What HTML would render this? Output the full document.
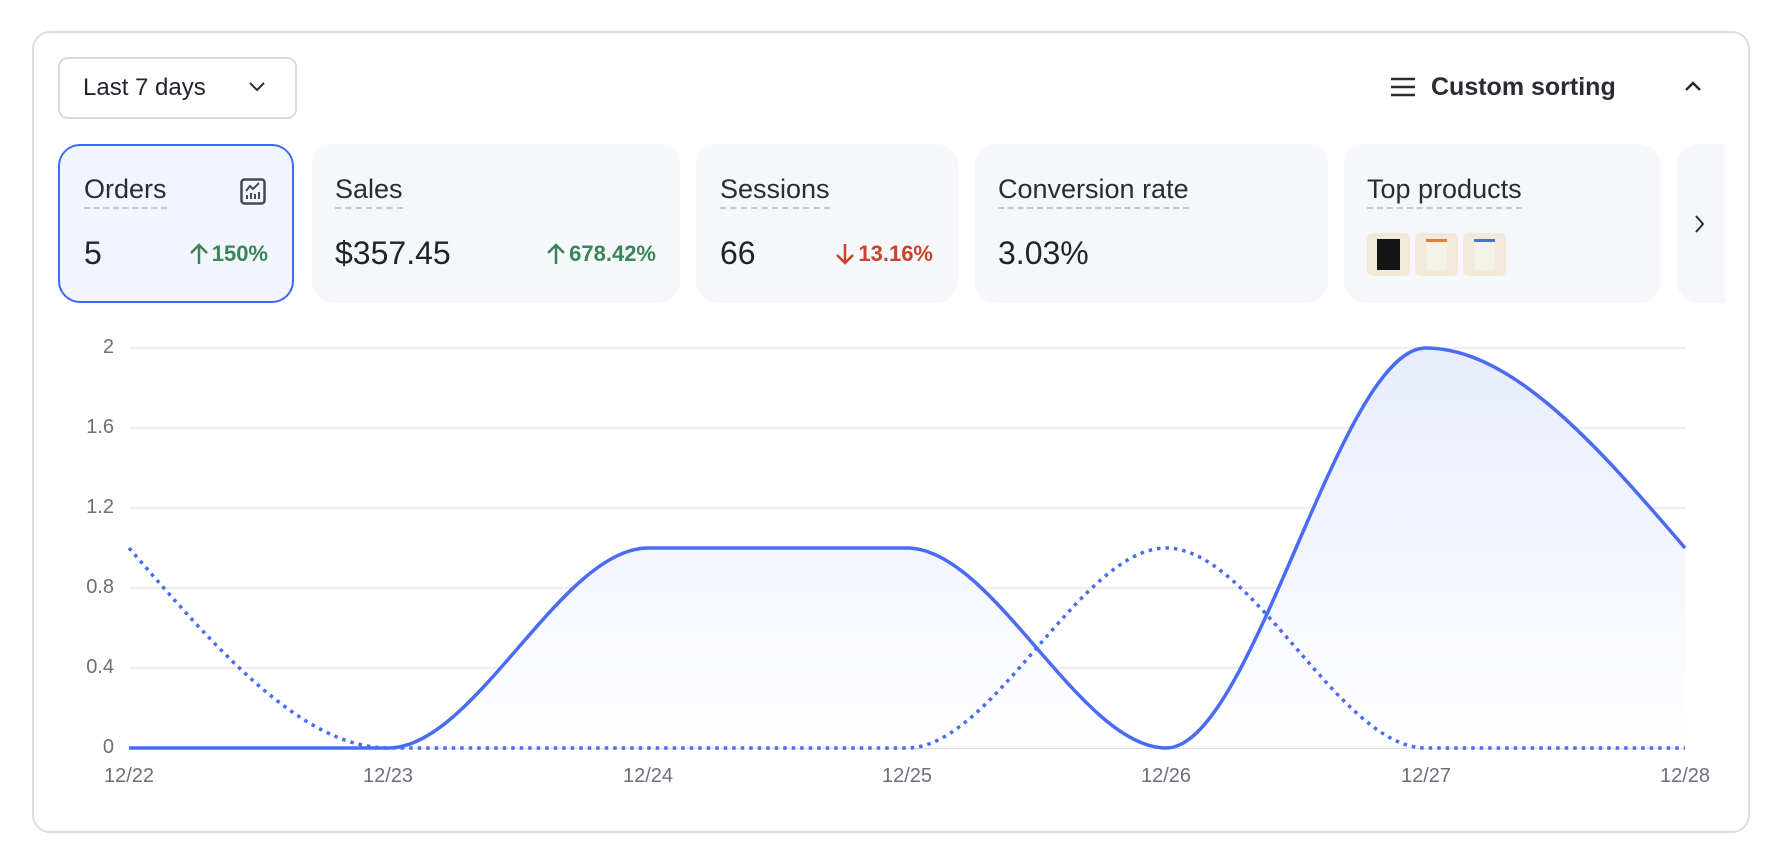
<!DOCTYPE html>
<html><head><meta charset="utf-8"><style>
*{margin:0;padding:0;box-sizing:border-box}
body{width:1784px;height:864px;background:#fff;font-family:"Liberation Sans",sans-serif;color:#22232b;position:relative;overflow:hidden}
.abs{position:absolute}
.card{position:absolute;top:144px;height:159px;background:#f6f7fb;border-radius:22px}
.lbl{position:absolute;top:174px;font-size:27px;line-height:31px;border-bottom:2px dashed #c3c6cf;padding-bottom:2px;color:#2a2b33}
.val{position:absolute;top:235px;font-size:32px;line-height:37px;color:#22232b}
.pct{position:absolute;top:240px;font-size:22px;line-height:28px;font-weight:600;text-align:right;display:flex;justify-content:flex-end;align-items:center;gap:3px}
.g{color:#3a8456}.r{color:#c9432a}
.yl{position:absolute;left:40px;width:74px;text-align:right;font-size:20px;color:#6b6f7b}
.xl{position:absolute;top:765px;width:100px;text-align:center;font-size:20px;color:#6b6f7b}
.th{position:absolute;top:233px;width:43px;height:43px;background:#f3e9da;border-radius:6px}
</style></head><body>
<div class="abs" style="left:32px;top:31px;width:1718px;height:802px;border:2px solid #dcdee6;border-radius:18px"></div>
<div class="abs" style="left:58px;top:57px;width:239px;height:62px;border:2px solid #d9dbe3;border-radius:10px"></div>
<div class="abs" style="left:83px;top:73px;font-size:24px;line-height:30px">Last 7 days</div>
<svg class="abs" style="left:248px;top:80px" width="18" height="12"><path d="M2 3 L9 10 L16 3" fill="none" stroke="#2a2b33" stroke-width="2"/></svg>
<svg class="abs" style="left:1390px;top:76px" width="26" height="22"><path d="M1 3H25M1 11H25M1 19H25" stroke="#2a2b33" stroke-width="2.5"/></svg>
<div class="abs" style="left:1431px;top:72px;font-size:25px;line-height:30px;font-weight:bold;color:#2a2b33">Custom sorting</div>
<svg class="abs" style="left:1684px;top:80px" width="18" height="12"><path d="M2 10 L9 3 L16 10" fill="none" stroke="#2a2b33" stroke-width="2.5"/></svg>

<div class="card" style="left:58px;width:236px;background:#f2f5fe;border:2.5px solid #4169f0"></div>
<div class="lbl" style="left:84px">Orders</div>
<svg class="abs" style="left:240px;top:178px" width="26" height="28"><rect x="1.5" y="1.5" width="23" height="24" rx="3" fill="none" stroke="#454852" stroke-width="2.5"/><path d="M6 13 L10 8 L13 11 L19 5" fill="none" stroke="#454852" stroke-width="2"/><path d="M7 21V17M11 21V15M15 21V16M19 21V14" stroke="#454852" stroke-width="2"/></svg>
<div class="val" style="left:84px">5</div>
<div class="pct g" style="left:130px;width:138px"><svg width="20" height="24"><path d="M10 22V3M2 11L10 3L18 11" fill="none" stroke="#3a8456" stroke-width="2.5"/></svg>150%</div>

<div class="card" style="left:312px;width:368px"></div>
<div class="lbl" style="left:335px">Sales</div>
<div class="val" style="left:335px">$357.45</div>
<div class="pct g" style="left:480px;width:176px"><svg width="20" height="24"><path d="M10 22V3M2 11L10 3L18 11" fill="none" stroke="#3a8456" stroke-width="2.5"/></svg>678.42%</div>

<div class="card" style="left:696px;width:262px"></div>
<div class="lbl" style="left:720px">Sessions</div>
<div class="val" style="left:720px">66</div>
<div class="pct r" style="left:780px;width:153px"><svg width="20" height="24"><path d="M10 2V21M2 13L10 21L18 13" fill="none" stroke="#c9432a" stroke-width="2.5"/></svg>13.16%</div>

<div class="card" style="left:974px;width:354px"></div>
<div class="lbl" style="left:998px">Conversion rate</div>
<div class="val" style="left:998px">3.03%</div>

<div class="card" style="left:1344px;width:317px"></div>
<div class="lbl" style="left:1367px">Top products</div>
<div class="th" style="left:1367px"><div style="position:absolute;left:10px;top:6px;width:23px;height:31px;background:#151515"></div></div>
<div class="th" style="left:1415px"><div style="position:absolute;left:11px;top:6px;width:21px;height:31px;background:#f4f1e6;border-top:3px solid #e0803a"></div></div>
<div class="th" style="left:1463px"><div style="position:absolute;left:11px;top:6px;width:21px;height:31px;background:#f4f1e6;border-top:3px solid #4a73d0"></div></div>

<div class="card" style="left:1677px;width:48px;border-radius:22px 0 0 22px"></div>
<svg class="abs" style="left:1694px;top:214px" width="12" height="20"><path d="M2 2 L9 10 L2 18" fill="none" stroke="#2a2b33" stroke-width="2"/></svg>

<svg class="abs" style="left:0;top:0" width="1784" height="864">
<defs><linearGradient id="gr" x1="0" y1="348" x2="0" y2="748" gradientUnits="userSpaceOnUse"><stop offset="0" stop-color="#e8ecfb"/><stop offset="1" stop-color="#ffffff"/></linearGradient></defs>
<g stroke="#e6e8ee" stroke-width="1.5">
<line x1="129" x2="1685" y1="348" y2="348"/><line x1="129" x2="1685" y1="428" y2="428"/><line x1="129" x2="1685" y1="508" y2="508"/><line x1="129" x2="1685" y1="588" y2="588"/><line x1="129" x2="1685" y1="668" y2="668"/></g>
<line x1="129" x2="1685" y1="748" y2="748" stroke="#cfd2dc" stroke-width="1.5"/>
<path d="M129,748 L388.3,748 C474.8,748 561.2,548 647.7,548 L907,548 C993.4,548 1079.9,748 1166.3,748 C1252.8,748 1339.2,348 1425.7,348 C1512.1,348 1598.6,447 1685,548 L1685,748 Z" fill="url(#gr)"/>
<path d="M129,548 C215.4,648 301.9,748 388.3,748 L907,748 C993.4,748 1079.9,548 1166.3,548 C1252.8,548 1339.2,748 1425.7,748 L1685,748" fill="none" stroke="#4a6cf5" stroke-width="3.5" stroke-dasharray="3.5 5"/>
<path d="M129,748 L388.3,748 C474.8,748 561.2,548 647.7,548 L907,548 C993.4,548 1079.9,748 1166.3,748 C1252.8,748 1339.2,348 1425.7,348 C1512.1,348 1598.6,447 1685,548" fill="none" stroke="#4a6cf5" stroke-width="3.5"/>
</svg>
<div class="yl" style="top:336px">2</div>
<div class="yl" style="top:416px">1.6</div>
<div class="yl" style="top:496px">1.2</div>
<div class="yl" style="top:576px">0.8</div>
<div class="yl" style="top:656px">0.4</div>
<div class="yl" style="top:736px">0</div>
<div class="xl" style="left:79px">12/22</div>
<div class="xl" style="left:338px">12/23</div>
<div class="xl" style="left:598px">12/24</div>
<div class="xl" style="left:857px">12/25</div>
<div class="xl" style="left:1116px">12/26</div>
<div class="xl" style="left:1376px">12/27</div>
<div class="xl" style="left:1635px">12/28</div>
</body></html>
